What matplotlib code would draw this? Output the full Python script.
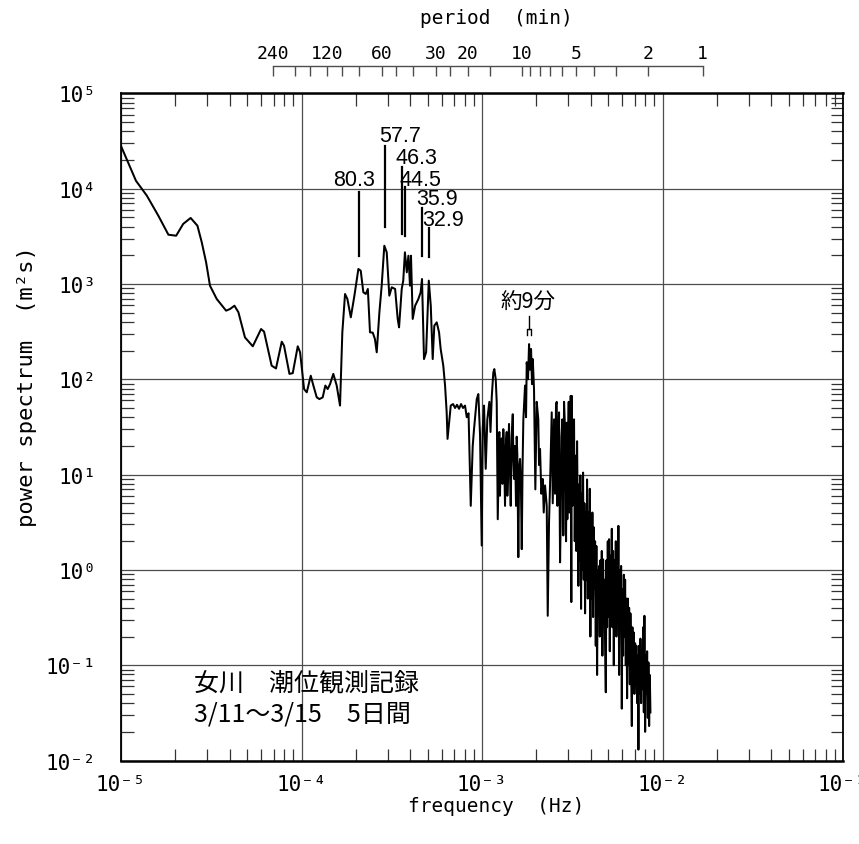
import numpy as np
import matplotlib
matplotlib.use('Agg')
import matplotlib.pyplot as plt
from matplotlib.ticker import LogLocator, FuncFormatter, NullFormatter, NullLocator

MONO = ['DejaVu Sans Mono', 'DejaVu Sans']
SANS = ['Liberation Sans', 'DejaVu Sans']
JP = ['Noto Sans CJK JP', 'DejaVu Sans']

# power spectrum of the tide gauge record: frequency (Hz), power (m^2 s)
freq_hz = [
    1.00e-5, 1.21e-5, 1.39e-5, 1.61e-5, 1.83e-5, 2.02e-5, 2.21e-5, 2.43e-5, 2.65e-5, 2.80e-5,
    2.96e-5, 3.11e-5, 3.39e-5, 3.82e-5, 4.02e-5, 4.25e-5, 4.47e-5, 4.86e-5, 5.37e-5, 5.97e-5,
    6.20e-5, 6.83e-5, 7.22e-5, 7.77e-5, 8.00e-5, 8.57e-5, 8.94e-5, 9.53e-5, 9.82e-5, 1.033e-4,
    1.069e-4, 1.125e-4, 1.163e-4, 1.214e-4, 1.256e-4, 1.31e-4, 1.355e-4, 1.396e-4, 1.439e-4, 1.50e-4,
    1.566e-4, 1.634e-4, 1.683e-4, 1.742e-4, 1.795e-4, 1.875e-4, 1.963e-4, 2.065e-4, 2.128e-4, 2.20e-4,
    2.27e-4, 2.33e-4, 2.395e-4, 2.48e-4, 2.55e-4, 2.61e-4, 2.70e-4, 2.78e-4, 2.875e-4, 2.965e-4,
    3.064e-4, 3.16e-4, 3.30e-4, 3.41e-4, 3.47e-4, 3.59e-4, 3.66e-4, 3.74e-4, 3.83e-4, 3.91e-4,
    3.99e-4, 4.04e-4, 4.13e-4, 4.26e-4, 4.44e-4, 4.57e-4, 4.65e-4, 4.77e-4, 4.90e-4, 5.07e-4,
    5.20e-4, 5.33e-4, 5.44e-4, 5.61e-4, 5.78e-4, 5.90e-4, 6.10e-4, 6.24e-4, 6.37e-4,
    6.44e-4, 6.71e-4, 6.91e-4, 7.09e-4, 7.27e-4, 7.46e-4, 7.65e-4, 7.85e-4, 8.05e-4, 8.23e-4,
    8.42e-4, 8.66e-4, 8.88e-4, 9.03e-4, 9.35e-4, 9.54e-4, 9.75e-4, 9.96e-4, 1.009e-3, 1.026e-3,
    1.048e-3, 1.070e-3, 1.098e-3, 1.114e-3, 1.132e-3, 1.155e-3, 1.170e-3, 1.191e-3, 1.206e-3, 1.222e-3,
    1.247e-3, 1.257e-3, 1.266e-3, 1.286e-3, 1.298e-3, 1.312e-3, 1.326e-3, 1.341e-3, 1.355e-3, 1.370e-3,
    1.381e-3, 1.393e-3, 1.402e-3, 1.411e-3, 1.426e-3, 1.442e-3, 1.460e-3, 1.480e-3, 1.492e-3,
    1.504e-3, 1.523e-3, 1.533e-3, 1.543e-3, 1.556e-3, 1.569e-3, 1.579e-3, 1.589e-3, 1.606e-3, 1.624e-3,
    1.642e-3, 1.660e-3, 1.677e-3, 1.694e-3, 1.731e-3, 1.753e-3,
    1.769e-3, 1.798e-3, 1.822e-3, 1.845e-3, 1.869e-3, 1.892e-3, 1.910e-3, 1.941e-3, 1.974e-3, 2.009e-3,
    2.050e-3, 2.069e-3, 2.096e-3, 2.131e-3, 2.170e-3, 2.197e-3, 2.234e-3, 2.283e-3, 2.312e-3, 2.351e-3,
    2.381e-3, 2.433e-3, 2.465e-3, 2.506e-3, 2.538e-3, 2.570e-3, 2.594e-3, 2.614e-3, 2.644e-3, 2.671e-3,
    2.706e-3, 2.729e-3, 2.757e-3, 2.786e-3, 2.821e-3, 2.847e-3, 2.884e-3, 2.921e-3, 2.947e-3, 2.969e-3,
    3.007e-3, 3.022e-3, 3.053e-3, 3.100e-3, 3.124e-3, 3.141e-3, 3.164e-3, 3.193e-3, 3.234e-3, 3.263e-3,
    3.298e-3, 3.327e-3, 3.362e-3, 3.392e-3, 3.418e-3, 3.449e-3, 3.480e-3, 3.506e-3, 3.538e-3, 3.569e-3,
    3.597e-3, 3.629e-3, 3.661e-3, 3.690e-3, 3.723e-3, 3.757e-3, 3.785e-3, 3.819e-3, 3.853e-3, 3.883e-3,
    3.918e-3, 3.953e-3, 3.984e-3, 4.020e-3, 4.055e-3, 4.087e-3, 4.124e-3, 4.161e-3, 4.193e-3, 4.230e-3,
    4.268e-3, 4.301e-3, 4.340e-3, 4.378e-3, 4.412e-3, 4.452e-3, 4.492e-3, 4.526e-3, 4.567e-3, 4.608e-3,
    4.644e-3, 4.685e-3, 4.727e-3, 4.763e-3, 4.807e-3, 4.850e-3, 4.887e-3, 4.931e-3, 4.975e-3, 5.013e-3,
    5.058e-3, 5.103e-3, 5.143e-3, 5.189e-3, 5.236e-3, 5.276e-3, 5.323e-3, 5.371e-3, 5.413e-3, 5.461e-3,
    5.510e-3, 5.552e-3, 5.602e-3, 5.652e-3, 5.696e-3, 5.747e-3, 5.799e-3, 5.843e-3, 5.896e-3, 5.948e-3,
    5.994e-3, 6.048e-3, 6.102e-3, 6.150e-3, 6.205e-3, 6.260e-3, 6.308e-3, 6.365e-3, 6.422e-3, 6.472e-3,
    6.530e-3, 6.589e-3, 6.639e-3, 6.699e-3, 6.759e-3, 6.811e-3, 6.872e-3, 6.934e-3, 6.987e-3, 7.050e-3,
    7.113e-3, 7.167e-3, 7.232e-3, 7.297e-3, 7.353e-3, 7.419e-3, 7.485e-3, 7.543e-3, 7.611e-3, 7.679e-3,
    7.739e-3, 7.808e-3, 7.878e-3, 7.938e-3, 8.010e-3, 8.082e-3, 8.144e-3, 8.217e-3, 8.290e-3, 8.354e-3,
    8.429e-3, 8.504e-3, 8.570e-3,
]
power = [
    2.8e4, 1.21e4, 8.45e3, 5.2e3, 3.29e3, 3.21e3, 4.27e3, 4.93e3, 4.09e3, 2.74e3,
    1.69e3, 960, 696, 525, 547, 592, 505, 275, 222, 337,
    316, 139, 130, 248, 225, 114, 116, 222, 192, 79,
    73, 109, 86, 64.7, 62, 64.6, 86, 79, 89, 114,
    86, 53, 311, 785, 696, 447, 754, 1436, 1380, 818,
    786, 887, 311, 309, 265, 192, 505, 960, 2520, 2150,
    754, 923, 887, 430, 351, 887, 1084, 2150, 1327, 1980,
    960, 1980, 430, 592, 696, 818, 1128, 163, 192, 1084,
    592, 163, 365, 396, 311, 208, 139, 86, 45,
    23.7, 53, 55, 50, 54, 49, 55, 50, 53, 40,
    44, 4.7, 20, 30, 62, 70, 26, 1.8, 30, 53,
    11.5, 38, 58, 28, 65, 118, 128, 100, 58, 3.4,
    28, 6, 11, 24, 8, 30, 15, 4.7, 20, 28,
    6, 10, 22, 34, 12, 4.7, 25, 43, 14,
    9, 20, 10, 4.7, 25, 16, 5, 1.36, 12, 14.6,
    8, 1.65, 12, 38, 86, 40,
    151, 100, 234, 126, 208, 89, 163, 79, 7, 58,
    38, 12.6, 18.6, 6.3, 9, 4, 7.7, 4.7, 0.33, 3.2,
    7.7, 45, 5, 38, 6.3, 55, 58, 4.7, 20, 45,
    1.2, 3.4, 25, 38, 2.3, 58, 30, 2.0, 35, 3.4,
    32, 58, 4, 67, 0.46, 67, 4.7, 16, 38, 2.0,
    15.8, 1.58, 22.4, 3.16, 0.68, 7.9, 1.26, 9.8, 0.39, 6.3,
    1.0, 10.5, 0.79, 5.0, 0.35, 4.0, 0.79, 8.9, 0.5, 4.0,
    0.63, 7.1, 0.2, 3.16, 0.5, 4.0, 0.32, 2.8, 0.63, 2.0,
    0.16, 1.78, 0.079, 1.0, 0.4, 1.1, 0.2, 1.26, 0.32, 1.58,
    0.126, 1.29, 0.4, 0.79, 0.16, 0.052, 1.26, 0.25, 2.0, 0.32,
    2.1, 0.14, 1.41, 0.4, 2.7, 0.25, 1.58, 0.1, 1.26, 0.32,
    2.0, 0.2, 1.58, 0.32, 2.9, 0.079, 1.0, 0.25, 1.1, 0.035,
    0.63, 0.126, 0.89, 0.2, 0.79, 0.1, 0.5, 0.045, 0.5, 0.1,
    0.4, 0.063, 0.35, 0.1, 0.023, 0.25, 0.063, 0.22, 0.05, 0.17,
    0.079, 0.16, 0.04, 0.126, 0.013, 0.16, 0.05, 0.19, 0.04, 0.14,
    0.056, 0.25, 0.032, 0.33, 0.02, 0.126, 0.05, 0.14, 0.028, 0.107,
    0.023, 0.079, 0.032,
]

# marked peaks, period in minutes
peak_periods = [80.3, 57.7, 46.3, 44.5, 35.9, 32.9]
peak_labels = ['80.3', '57.7', '46.3', '44.5', '35.9', '32.9']

# period axis (minutes)
period_ticks = [240, 180, 150, 120, 100, 80, 60, 50, 40, 30, 25, 20,
                15, 10, 9, 8, 7, 6, 5, 4, 3, 2, 1]
period_labelled = [240, 120, 60, 30, 20, 10, 5, 2, 1]

SUP = str.maketrans('-0123456789', '⁻⁰¹²³⁴⁵⁶⁷⁸⁹')


def pow10_label(v, pos):
    e = int(round(np.log10(v)))
    return '10' + str(e).translate(SUP)


fig = plt.figure(figsize=(8.59, 8.45), dpi=100)
ax = fig.add_axes([0.1409, 0.0988, 0.8405, 0.7895])

ax.plot(freq_hz, power, color='black', lw=1.45)

ax.set_xscale('log')
ax.set_yscale('log')
ax.set_xlim(1e-5, 1e-1)
ax.set_ylim(1e-2, 1e5)

ax.grid(which='major', color='0.3', lw=0.9)
ax.xaxis.set_minor_locator(LogLocator(base=10, subs=np.arange(2, 10), numticks=20))
ax.yaxis.set_minor_locator(LogLocator(base=10, subs=np.arange(2, 10), numticks=20))
ax.xaxis.set_minor_formatter(NullFormatter())
ax.yaxis.set_minor_formatter(NullFormatter())
ax.xaxis.set_major_formatter(FuncFormatter(pow10_label))
ax.yaxis.set_major_formatter(FuncFormatter(pow10_label))
ax.tick_params(which='both', direction='in', top=True, right=True, color='0.2')
ax.tick_params(axis='y', which='major', length=0, pad=18)
ax.tick_params(axis='x', which='major', length=0, pad=10)
ax.tick_params(which='minor', length=9, width=0.9)
for lab in ax.get_xticklabels() + ax.get_yticklabels():
    lab.set_family(MONO)
    lab.set_fontsize(15)
for side in ['top', 'bottom']:
    ax.spines[side].set_linewidth(1.8)
for side in ['left', 'right']:
    ax.spines[side].set_linewidth(1.3)

# period labels over the peaks
mark_lo = [1970, 3990, 3350, 3210, 1950, 1905]
mark_hi = [9230, 28200, 17000, 10500, 6220, 3840]
text_y = [12600, 36000, 21400, 12600, 7940, 4790]
for T, lab, lo, hi, ty in zip(peak_periods, peak_labels, mark_lo, mark_hi, text_y):
    f = 1.0 / (60.0 * T)
    ax.plot([f, f], [lo, hi], color='black', lw=1.6)
    if lab == '80.3':
        ax.annotate(lab, xy=(f, ty), xytext=(-5, 0), textcoords='offset pixels',
                    ha='center', va='center', fontsize=15.5, family=SANS)
    else:
        ax.annotate(lab, xy=(f, ty), xytext=(-6, 0), textcoords='offset pixels',
                    ha='left', va='center', fontsize=15.5, family=SANS)

# bracket marking the ~9 minute band
f_lo, f_hi, f_mid = 1.77e-3, 1.87e-3, 1.82e-3
ax.plot([f_lo, f_lo, f_hi, f_hi], [292, 337, 337, 292], color='black', lw=1.0)
ax.plot([f_mid, f_mid], [337, 464], color='black', lw=1.0)
ax.text(1.80e-3, 646, '約9分', ha='center', va='center', fontsize=15.5, family=JP)

ax.text(0.101, 0.1177, '女川　潮位観測記録', transform=ax.transAxes,
        ha='left', va='center', fontsize=18, family=JP)
ax.text(0.101, 0.0712, '3/11～3/15　5日間', transform=ax.transAxes,
        ha='left', va='center', fontsize=18, family=JP)

# period (min) scale above the plot
axp = fig.add_axes([0.1409, 0.9007, 0.8405, 0.02])
axp.set_xscale('log')
axp.set_xlim(1e-5, 1e-1)
axp.patch.set_visible(False)
for side in ['left', 'right', 'bottom']:
    axp.spines[side].set_visible(False)
axp.spines['top'].set_bounds(1.0 / (60 * 240), 1.0 / 60)
axp.spines['top'].set_linewidth(1.0)
axp.spines['top'].set_color('0.3')
axp.set_yticks([])
axp.set_xticks([1.0 / (60 * T) for T in period_ticks],
               [str(T) if T in period_labelled else '' for T in period_ticks])
axp.xaxis.set_minor_locator(NullLocator())
axp.xaxis.set_ticks_position('top')
axp.tick_params(axis='x', direction='in', length=7, width=1.0, color='0.3', pad=3)
for lab in axp.get_xticklabels():
    lab.set_family(MONO)
    lab.set_fontsize(13)

fig.text(0.578, 0.978, 'period  (min)', ha='center', va='center', fontsize=14, family=MONO)
fig.text(0.577, 0.045, 'frequency  (Hz)', ha='center', va='center', fontsize=14, family=MONO)
fig.text(0.032, 0.543, 'power spectrum  (m²s)', ha='center', va='center', rotation=90,
         fontsize=16, family=MONO)

fig.savefig('out.png', dpi=100)
